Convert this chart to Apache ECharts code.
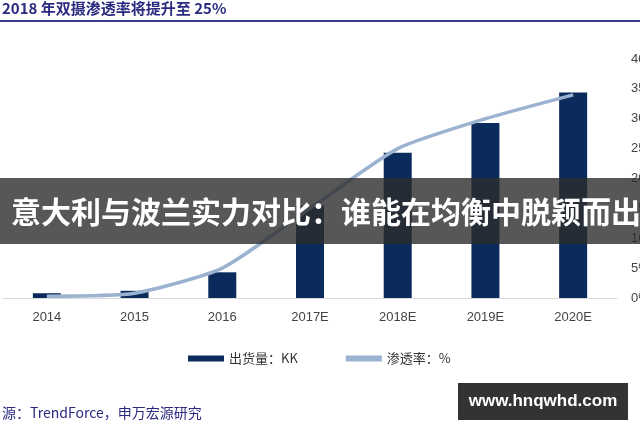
<!DOCTYPE html><html><head><meta charset="utf-8"><script src="https://cdn.jsdelivr.net/npm/echarts@6/dist/echarts.min.js"></script>
<style>html,body{margin:0;padding:0;background:#fff}#c{width:640px;height:426px}</style></head><body><div id="c"></div><script>
const categories=['2014','2015','2016','2017E','2018E','2019E','2020E'];
const shipments=[8,12,43,155,243,293,344];
const penetration=[0.3,0.8,5,15,25,30,34];
const rightTicks=['0%','5%','10%','15%','20%','25%','30%','35%','40%'];
const ch=echarts.init(document.getElementById('c'));
ch.setOption({
animation:false,
grid:{left:3,right:23,top:59,bottom:128,containLabel:false,outerBoundsMode:'none'},
legend:{bottom:56,left:183,itemGap:48,textStyle:{color:'#333',fontSize:13,fontFamily:'Noto Sans CJK SC'},
 data:[{name:'出货量：KK',icon:'rect'},{name:'渗透率：%',icon:'rect',itemStyle:{color:'#9bb3d1'}}],itemWidth:36,itemHeight:6},
xAxis:{type:'category',data:categories,axisTick:{show:false},axisLine:{lineStyle:{color:'#d9d9d9'}},
 axisLabel:{color:'#444',fontSize:13,margin:13,fontFamily:'Arial'}},
yAxis:[{type:'value',min:0,max:400,interval:50,show:false},
 {type:'value',min:0,max:40,interval:5,position:'right',splitLine:{show:false},axisLine:{show:false},axisTick:{show:false},
 axisLabel:{color:'#444',fontSize:13,margin:14,fontFamily:'Arial',formatter:v=>rightTicks[v/5]}}],
series:[{name:'出货量：KK',type:'bar',data:shipments,barWidth:28,itemStyle:{color:'#0b2b5c'}},
 {name:'渗透率：%',type:'line',yAxisIndex:1,data:penetration,symbol:'none',smooth:0.2,lineStyle:{color:'#9bb3d1',width:3.5},itemStyle:{color:'#9bb3d1'}}],
graphic:[
 {type:'text',left:2,top:1,z:100,style:{text:'2018 年双摄渗透率将提升至 25%',fill:'#2a2a80',font:'bold 15px "Noto Sans CJK SC"'}},
 {type:'rect',z:100,shape:{x:0,y:20,width:640,height:2},style:{fill:'#3a3a8c'}},
 {type:'rect',z:100,shape:{x:0,y:178,width:640,height:66},style:{fill:'rgba(45,45,45,0.8)'}},
 {type:'text',z:101,x:326,y:212,style:{text:'意大利与波兰实力对比：谁能在均衡中脱颖而出',fill:'#fff',align:'center',verticalAlign:'middle',font:'bold 30px "Noto Sans CJK SC"'}},
 {type:'text',z:100,left:2,top:406,style:{text:'源：TrendForce，申万宏源研究',fill:'#2a2a80',font:'14px "Noto Sans CJK SC"'}},
 {type:'rect',z:100,shape:{x:458,y:383,width:170,height:37},style:{fill:'#333'}},
 {type:'text',z:101,x:543,y:401,style:{text:'www.hnqwhd.com',fill:'#fff',font:'bold 17px Arial',align:'center',verticalAlign:'middle'}}
]});
</script></body></html>
